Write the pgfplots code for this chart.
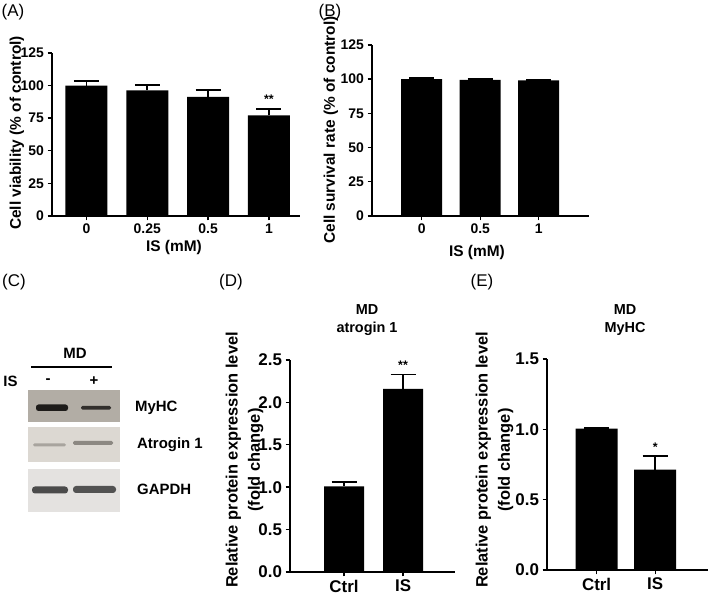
\documentclass[border=0pt]{standalone}
\usepackage{pgfplots}
\pgfplotsset{compat=1.18}
\usepackage{fontspec}
\setmainfont{Liberation Sans}
\newcommand\fTickA{\fontsize{14}{16}\selectfont\bfseries}
\newcommand\fLabA{\fontsize{15.5}{18}\selectfont\bfseries}
\newcommand\fTickD{\fontsize{17}{20}\selectfont\bfseries}
\newcommand\fLabD{\fontsize{16.5}{22.5}\selectfont\bfseries}
\newcommand\fTitle{\fontsize{14.5}{18.5}\selectfont\bfseries}
\newcommand\fPanel{\fontsize{17}{20}\selectfont}
\newcommand\fBlot{\fontsize{15}{18}\selectfont\bfseries}
\pgfplotsset{
  panel/.style={
    scale only axis,
    anchor=south west,
    axis lines=left,
    axis line style={-, line width=1.4bp, black},
    tick align=outside,
    major tick length=4.5bp,
    every tick/.style={black, line width=1.4bp},
    ymin=0,
    ybar,
    xtick=data,
    clip=false,
  },
  barplot/.style={
    fill=black, draw=none,
    error bars/.cd, y dir=plus, y explicit,
    error bar style={line width=1.8bp, black},
    error mark options={rotate=90, line width=1.8bp, mark size=12.5bp, black},
  },
}
\begin{document}
\begin{tikzpicture}[x=1bp,y=1bp]
\path[use as bounding box] (0,0) rectangle (709,602);

% ---------- Panel A ----------
\begin{axis}[panel,
  at={(52bp,386bp)}, width=248bp, height=163bp,
  xmin=-0.566, xmax=3.51, ymax=125,
  bar width=42bp,
  ytick={0,25,50,75,100,125},
  yticklabels={0,25,50,75,100,125},
  xticklabels={0,0.25,0.5,1},
  ticklabel style={font=\fTickA},
]
\addplot[barplot] coordinates {(0,100) +- (0,3.7) (1,96.3) +- (0,4.3) (2,91.4) +- (0,5.4) (3,77.1) +- (0,5.1)};
\node[font=\fontsize{12.5}{14}\selectfont\bfseries] at (axis cs:3,89.5) {**};
\end{axis}
\node[rotate=90, font=\fLabA] at (17,469) {Cell viability (\% of control)};
\node[font=\fLabA] at (174,354) {IS (mM)};
\node[font=\fPanel] at (13,590) {(A)};

% ---------- Panel B ----------
\begin{axis}[panel,
  at={(372bp,386bp)}, width=217bp, height=171bp,
  xmin=-0.85, xmax=2.86, ymax=125,
  bar width=41bp,
  ytick={0,25,50,75,100,125},
  yticklabels={0,25,50,75,100,125},
  xticklabels={0,0.5,1},
  ticklabel style={font=\fTickA},
]
\addplot[barplot] coordinates {(0,100.1) +- (0,0.7) (1,99.5) +- (0,0.5) (2,99.2) +- (0,0.4)};
\end{axis}
\node[rotate=90, font=\fLabA] at (331,472) {Cell survival rate (\% of control)};
\node[font=\fLabA] at (477,349) {IS (mM)};
\node[font=\fPanel] at (330,590) {(B)};

% ---------- Panel C (blot) ----------
\node[font=\fPanel] at (14,320) {(C)};
\node[font=\fBlot] at (75,249) {MD};
\draw[line width=1.8bp] (31,235) -- (112,235);
\node[font=\fBlot] at (10.5,221) {IS};
\node[font=\fBlot] at (48,221) {-};
\node[font=\fBlot] at (94,221) {+};
% MyHC
\fill[color={rgb,255:red,178;green,173;blue,165}] (28,180) rectangle (120,212);
\fill[color={rgb,255:red,30;green,28;blue,26}, rounded corners=2.5bp] (36,191) rectangle (68,197.5);
\fill[color={rgb,255:red,50;green,47;blue,44}, rounded corners=1.5bp] (81,192.3) rectangle (111,196);
% Atrogin 1
\fill[color={rgb,255:red,220;green,216;blue,210}] (28,140) rectangle (120,175);
\fill[color={rgb,255:red,168;green,164;blue,158}, rounded corners=1.5bp] (33,155.5) rectangle (66,158.5);
\fill[color={rgb,255:red,140;green,136;blue,130}, rounded corners=1.5bp] (73,157) rectangle (113,161);
% GAPDH
\fill[color={rgb,255:red,228;green,226;blue,224}] (28,90) rectangle (120,133);
\fill[color={rgb,255:red,75;green,75;blue,75}, rounded corners=3bp] (32,108.5) rectangle (68,115.5);
\fill[color={rgb,255:red,82;green,82;blue,82}, rounded corners=3bp] (73,109) rectangle (116,116);
\node[font=\fBlot, anchor=west, inner sep=0] at (135,194) {MyHC};
\node[font=\fBlot, anchor=west, inner sep=0] at (137,157) {Atrogin 1};
\node[font=\fBlot, anchor=west, inner sep=0] at (137,113) {GAPDH};

% ---------- Panel D ----------
\begin{axis}[panel,
  at={(290bp,30bp)}, width=165bp, height=212bp,
  xmin=-0.915, xmax=1.88, ymax=2.5,
  bar width=40bp,
  ytick={0,0.5,1,1.5,2,2.5},
  yticklabels={0.0,0.5,1.0,1.5,2.0,2.5},
  xticklabels={Ctrl,IS},
  ticklabel style={font=\fTickD},
]
\addplot[barplot] coordinates {(0,1.01) +- (0,0.05) (1,2.16) +- (0,0.17)};
\node[font=\fontsize{12.5}{14}\selectfont\bfseries] at (axis cs:1,2.44) {**};
\end{axis}
\node[rotate=90, align=center, font=\fLabD] at (244.5,142) {Relative protein expression level\\(fold change)};
\node[align=center, font=\fTitle] at (367,282) {MD\\atrogin 1};
\node[font=\fPanel] at (231,320) {(D)};

% ---------- Panel E ----------
\begin{axis}[panel,
  at={(547bp,32bp)}, width=161bp, height=211bp,
  xmin=-0.846, xmax=1.9, ymax=1.5,
  bar width=42bp,
  ytick={0,0.5,1,1.5},
  yticklabels={0.0,0.5,1.0,1.5},
  xticklabels={Ctrl,IS},
  ticklabel style={font=\fTickD},
]
\addplot[barplot] coordinates {(0,1.005) +- (0,0.006) (1,0.714) +- (0,0.095)};
\node[font=\fontsize{12.5}{14}\selectfont\bfseries] at (axis cs:1,0.875) {*};
\end{axis}
\node[rotate=90, align=center, font=\fLabD] at (494.5,142) {Relative protein expression level\\(fold change)};
\node[align=center, font=\fTitle] at (625,282) {MD\\MyHC};
\node[font=\fPanel] at (482,320) {(E)};
\end{tikzpicture}
\end{document}
